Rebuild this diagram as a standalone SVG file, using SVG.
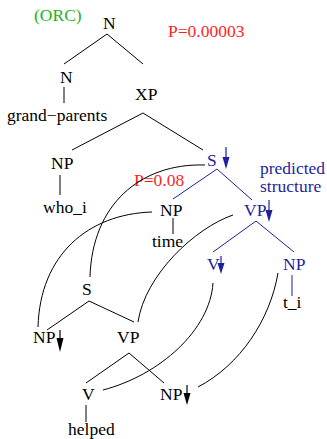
<svg xmlns="http://www.w3.org/2000/svg" width="327" height="439" viewBox="0 0 327 439" font-family="'Liberation Serif', 'Times New Roman', serif" font-size="17.5">
<defs>
<style>
text{font-family:'Liberation Serif','Times New Roman',serif;font-size:17.5px;fill:#000}
.b{fill:#1f1f9f}
.r{fill:#ff1f1f}
.g{fill:#1fb31f}
.e{stroke:#000;stroke-width:1;fill:none}
.eb{stroke:#1f1f9f;stroke-width:1;fill:none}
.c{stroke:#000;stroke-width:1;fill:none}
.ak{stroke:#000;stroke-width:1.2;fill:none}
.ab{stroke:#1f1f9f;stroke-width:1.2;fill:none}
.hk{fill:#000}
.hb{fill:#1f1f9f}
</style>
</defs>
<g id="labels">
<text class="g" x="34" y="21">(ORC)</text>
<text class="r" x="168" y="37">P=0.00003</text>
<text class="r" x="134" y="186">P=0.08</text>
<text class="b" x="260" y="174">predicted</text>
<text class="b" x="260" y="192">structure</text>
</g>
<g id="tree-edges">
<path class="e" d="M107,34 L64,64 M107,34 L143,64"/>
<path class="e" d="M64,87 V103"/>
<path class="e" d="M143,113 L72,150 M143,113 L203,150"/>
<path class="e" d="M60,175 V195"/>
<path class="eb" d="M217,169 L173,199 M217,169 L252,200"/>
<path class="e" d="M173,218 V234"/>
<path class="eb" d="M256,221 L213,252 M256,221 L294,252"/>
<path class="eb" d="M292,275 V296"/>
<path class="e" d="M89,301 L47,330 M89,301 L134,322"/>
<path class="e" d="M129,353 L86,383 M129,353 L164,383"/>
<path class="e" d="M86,405 V422"/>
</g>
<g id="n-top"><text x="103" y="29">N</text></g>
<g id="n-noun"><text x="60" y="83">N</text></g>
<g id="grand-parents"><text x="7" y="121">grand−parents</text></g>
<g id="xp"><text x="135" y="100">XP</text></g>
<g id="np-who"><text x="51" y="169">NP</text></g>
<g id="who-i"><text x="43" y="213">who_i</text></g>
<g id="s-pred"><text class="b" x="207" y="166">S</text><path class="ab" d="M226,147 V158"/><path class="hb" d="M222.5,157 H229.5 L226,169 Z"/></g>
<g id="np-time"><text x="160" y="216">NP</text></g>
<g id="time"><text x="152" y="247">time</text></g>
<g id="vp-pred"><text class="b" x="244" y="216">VP</text><path class="ab" d="M269,200 V211"/><path class="hb" d="M265.5,210 H272.5 L269,222 Z"/></g>
<g id="v-pred"><text class="b" x="207" y="270">V</text><path class="ab" d="M221,256 V264"/><path class="hb" d="M217.5,263 H224.5 L221,274 Z"/></g>
<g id="np-pred"><text class="b" x="283" y="270">NP</text></g>
<g id="t-i"><text x="283" y="308">t_i</text></g>
<g id="s-low"><text x="82" y="295">S</text></g>
<g id="np-low"><text x="33" y="343">NP</text><path class="ak" d="M60,330 V339"/><path class="hk" d="M56.5,338 H63.5 L60,352 Z"/></g>
<g id="vp-low"><text x="117" y="343">VP</text></g>
<g id="v-low"><text x="82" y="400">V</text></g>
<g id="helped"><text x="68" y="435">helped</text></g>
<g id="np-obj"><text x="160" y="400">NP</text><path class="ak" d="M187,385 V394"/><path class="hk" d="M183.5,393 H190.5 L187,405 Z"/></g>
<g id="connectors">
<path class="c" d="M205,165 C140,163 92,205 90,277"/>
<path class="c" d="M152,212 C88,214 40,255 38,327"/>
<path class="c" d="M233,215 C195,228 145,275 138,322"/>
<path class="c" d="M213,283 C210,330 160,375 103,390"/>
<path class="c" d="M278,273 C270,320 240,365 198,387"/>
</g>
</svg>
